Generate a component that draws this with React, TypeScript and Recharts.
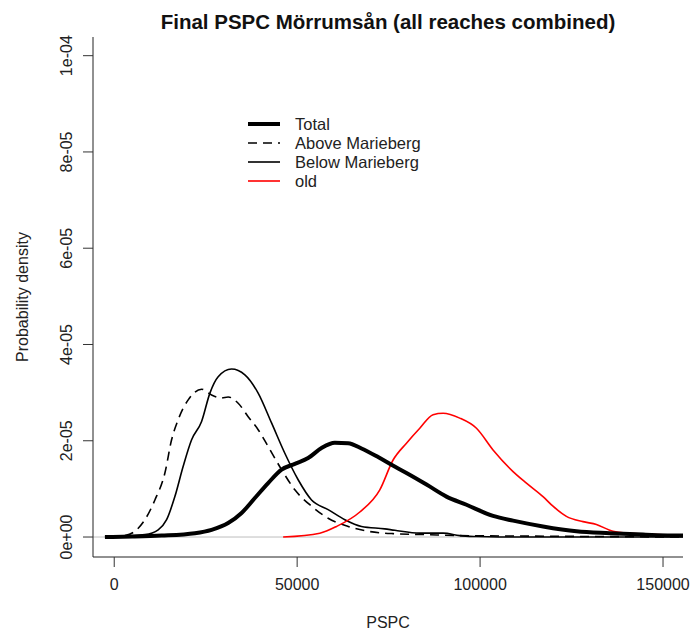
import React from "react";
import { LineChart, Line, XAxis, YAxis, ReferenceLine } from "recharts";

// ---- data (PSPC values, probability densities) ----
const totalX = [-2540, 5000, 12950, 22050, 26610, 31140, 34810, 38440, 42070, 45740, 49370, 53000, 56660, 60300, 63930, 67590, 72120, 75790, 79880, 85350, 90810, 96280, 103540, 109010, 117200, 126330, 135420, 144520, 155450, 160000];
const totalY = [0, 0.01e-5, 0.03e-5, 0.08e-5, 0.15e-5, 0.29e-5, 0.5e-5, 0.81e-5, 1.12e-5, 1.4e-5, 1.52e-5, 1.64e-5, 1.85e-5, 1.96e-5, 1.95e-5, 1.84e-5, 1.66e-5, 1.5e-5, 1.33e-5, 1.09e-5, 0.84e-5, 0.67e-5, 0.44e-5, 0.34e-5, 0.22e-5, 0.12e-5, 0.08e-5, 0.05e-5, 0.03e-5, 0.03e-5];

const aboveX = [-1170, 2920, 5650, 8390, 11120, 13850, 15680, 17490, 20220, 23880, 26610, 29340, 31140, 33880, 36610, 39340, 42070, 45740, 49370, 53930, 58460, 63930, 69390, 73950, 76220, 85350, 94440, 110840, 132700, 155450];
const aboveY = [0, 0.03e-5, 0.12e-5, 0.36e-5, 0.77e-5, 1.33e-5, 2.02e-5, 2.44e-5, 2.85e-5, 3.07e-5, 2.95e-5, 2.89e-5, 2.91e-5, 2.78e-5, 2.5e-5, 2.23e-5, 1.88e-5, 1.4e-5, 0.98e-5, 0.64e-5, 0.39e-5, 0.22e-5, 0.12e-5, 0.08e-5, 0.07e-5, 0.05e-5, 0.03e-5, 0.02e-5, 0.01e-5, 0];

const belowX = [-2540, 8390, 12020, 14320, 16580, 18850, 21150, 23880, 26150, 28410, 32070, 35710, 39340, 43000, 46630, 50270, 53930, 58460, 63030, 67590, 73950, 76690, 83520, 89880, 94440, 99010, 105000, 160000];
const belowY = [0, 0.05e-5, 0.15e-5, 0.36e-5, 0.84e-5, 1.47e-5, 2.02e-5, 2.4e-5, 2.99e-5, 3.33e-5, 3.49e-5, 3.37e-5, 2.99e-5, 2.37e-5, 1.74e-5, 1.19e-5, 0.77e-5, 0.57e-5, 0.36e-5, 0.22e-5, 0.17e-5, 0.14e-5, 0.08e-5, 0.08e-5, 0.03e-5, 0.01e-5, 0, 0];

const oldX = [46170, 56200, 60760, 67130, 72590, 76220, 79880, 83520, 87150, 89880, 94440, 99010, 103540, 109010, 112670, 117200, 119930, 123590, 128130, 131790, 136330, 144520, 155450, 160000];
const oldY = [0, 0.08e-5, 0.22e-5, 0.52e-5, 0.98e-5, 1.6e-5, 1.95e-5, 2.26e-5, 2.54e-5, 2.57e-5, 2.47e-5, 2.26e-5, 1.81e-5, 1.36e-5, 1.12e-5, 0.84e-5, 0.64e-5, 0.43e-5, 0.32e-5, 0.26e-5, 0.12e-5, 0.06e-5, 0.04e-5, 0.04e-5];

const X_TICKS = [0, 50000, 100000, 150000];
const X_LABELS = ["0", "50000", "100000", "150000"];
const Y_TICKS = [0, 2e-5, 4e-5, 6e-5, 8e-5, 1e-4];
const Y_LABELS = ["0e+00", "2e-05", "4e-05", "6e-05", "8e-05", "1e-04"];

const SERIES_NAMES = ["Total", "Above Marieberg", "Below Marieberg", "old"];
const TITLE = "Final PSPC Mörrumsån (all reaches combined)";
const X_TITLE = "PSPC";
const Y_TITLE = "Probability density";

const toPoints = (xs: number[], ys: number[]) => xs.map((x, i) => ({ x, y: ys[i] }));
const totalData = toPoints(totalX, totalY);
const aboveData = toPoints(aboveX, aboveY);
const belowData = toPoints(belowX, belowY);
const oldData = toPoints(oldX, oldY);

const FONT = "'Liberation Sans', Arial, sans-serif";
const TXT = "#222";

const XTick = (props: any) => {
  const { x, payload } = props;
  const i = X_TICKS.indexOf(payload.value);
  return (
    <text x={x} y={590} textAnchor="middle" fontSize={16} fill={TXT} fontFamily={FONT}>
      {i >= 0 ? X_LABELS[i] : String(payload.value)}
    </text>
  );
};

const YTick = (props: any) => {
  const { y, payload } = props;
  const i = Y_TICKS.findIndex((t) => Math.abs(t - payload.value) < 1e-9);
  const lx = 72;
  return (
    <text x={lx} y={y} transform={`rotate(-90 ${lx} ${y})`} textAnchor="middle" fontSize={16} fill={TXT} fontFamily={FONT}>
      {i >= 0 ? Y_LABELS[i] : String(payload.value)}
    </text>
  );
};

const LEGEND_STYLES = [
  { stroke: "#000", width: 4, dash: undefined as string | undefined },
  { stroke: "#000", width: 1.6, dash: "9 6" },
  { stroke: "#000", width: 1.6, dash: undefined },
  { stroke: "#ff0000", width: 1.6, dash: undefined },
];

export default function App() {
  return (
    <div style={{ position: "absolute", left: 0, top: 0, width: 691, height: 631, background: "#fff" }}>
      <LineChart width={691} height={631} margin={{ top: 37, right: 8, bottom: 0, left: 0 }}>
        <XAxis
          xAxisId="b"
          type="number"
          dataKey="x"
          domain={[-5800, 155460]}
          allowDataOverflow
          ticks={X_TICKS}
          tick={<XTick />}
          tickSize={10}
          tickLine={{ stroke: "#333" }}
          axisLine={{ stroke: "#222" }}
          height={74}
          interval={0}
          label={{
            content: () => (
              <text x={388} y={628} textAnchor="middle" fontSize={16} fill={TXT} fontFamily={FONT}>{X_TITLE}</text>
            ),
          }}
        />
        <XAxis xAxisId="t" orientation="top" type="number" dataKey="x" domain={[-5800, 155460]} allowDataOverflow height={0} tick={false} tickLine={false} axisLine={{ stroke: "#222" }} />
        <YAxis
          yAxisId="l"
          type="number"
          domain={[-4.15e-6, 1.0388e-4]}
          allowDataOverflow
          ticks={Y_TICKS}
          tick={<YTick />}
          tickSize={10}
          tickLine={{ stroke: "#333" }}
          axisLine={{ stroke: "#222" }}
          width={93}
          interval={0}
          label={{
            content: () => (
              <text x={28} y={297} transform="rotate(-90 28 297)" textAnchor="middle" fontSize={16} fill={TXT} fontFamily={FONT}>{Y_TITLE}</text>
            ),
          }}
        />
        <YAxis yAxisId="r" orientation="right" type="number" domain={[-4.15e-6, 1.0388e-4]} allowDataOverflow width={0} tick={false} tickLine={false} axisLine={{ stroke: "#222" }} />
        <ReferenceLine xAxisId="b" yAxisId="l" y={0} stroke="#bdbdbd" strokeWidth={1} />
        <Line xAxisId="b" yAxisId="l" data={aboveData} dataKey="y" name={SERIES_NAMES[1]} type="monotone" stroke="#000" strokeWidth={1.6} strokeDasharray="9 6" dot={false} isAnimationActive={false} />
        <Line xAxisId="b" yAxisId="l" data={belowData} dataKey="y" name={SERIES_NAMES[2]} type="monotone" stroke="#000" strokeWidth={1.6} dot={false} isAnimationActive={false} />
        <Line xAxisId="b" yAxisId="l" data={oldData} dataKey="y" name={SERIES_NAMES[3]} type="monotone" stroke="#ff0000" strokeWidth={1.6} dot={false} isAnimationActive={false} />
        <Line xAxisId="b" yAxisId="l" data={totalData} dataKey="y" name={SERIES_NAMES[0]} type="monotone" stroke="#000" strokeWidth={4} dot={false} isAnimationActive={false} />
      </LineChart>
      <svg width={691} height={631} style={{ position: "absolute", left: 0, top: 0, pointerEvents: "none" }}>
        <text x={388} y={29} textAnchor="middle" fontSize={20.5} fontWeight="bold" fill="#111" fontFamily={FONT}>{TITLE}</text>
        {SERIES_NAMES.map((name, i) => {
          const cy = 124 + i * 19;
          const s = LEGEND_STYLES[i];
          return (
            <g key={name}>
              <line x1={248} x2={280} y1={cy} y2={cy} stroke={s.stroke} strokeWidth={s.width} strokeDasharray={s.dash} />
              <text x={295} y={cy + 6} fontSize={16.5} fill={TXT} fontFamily={FONT}>{name}</text>
            </g>
          );
        })}
      </svg>
    </div>
  );
}
